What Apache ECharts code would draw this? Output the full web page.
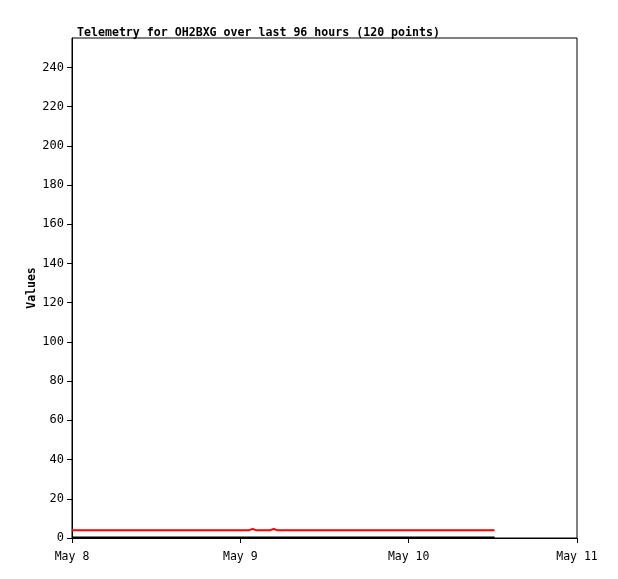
<!DOCTYPE html>
<html>
<head>
<meta charset="utf-8">
<script src="https://cdn.jsdelivr.net/npm/echarts@6/dist/echarts.min.js"></script>
<style>html,body{margin:0;padding:0;background:#fff}#c{width:618px;height:579px}</style>
</head>
<body>
<div id="c"></div>
<script>
const titleText = 'Telemetry for OH2BXG over last 96 hours (120 points)';
const yAxisName = 'Values';
const xTickTimes = ['2024-05-08T00:00:00Z', '2024-05-09T00:00:00Z', '2024-05-10T00:00:00Z', '2024-05-11T00:00:00Z'];
const xTickLabels = ['May 8', 'May 9', 'May 10', 'May 11'];
const yTicks = [0, 20, 40, 60, 80, 100, 120, 140, 160, 180, 200, 220, 240];
const yMax = 255;

const redTimes = ['2024-05-08T00:00:00Z', '2024-05-09T01:15:00Z', '2024-05-09T01:45:00Z', '2024-05-09T02:15:00Z',
                  '2024-05-09T04:15:00Z', '2024-05-09T04:45:00Z', '2024-05-09T05:15:00Z', '2024-05-10T12:15:00Z'];
const redValues = [4, 4, 4.6, 4, 4, 4.6, 4, 4];
const blackTimes = ['2024-05-08T00:00:00Z', '2024-05-10T12:15:00Z'];
const blackValues = [0.3, 0.3];

const ms = s => new Date(s).getTime();
const xTickMs = xTickTimes.map(ms);
const DAY = 86400000;
const font = 'DejaVu Sans Mono';

const chart = echarts.init(document.getElementById('c'), null, {renderer: 'canvas'});
chart.setOption({
  animation: false,
  title: {
    text: titleText, left: 72, top: 22,
    textStyle: {fontFamily: font, fontSize: 11.6, fontWeight: 'bold', color: '#000'}
  },
  grid: {left: 72, right: 41, top: 38, bottom: 41, show: true, borderColor: '#000', borderWidth: 1, backgroundColor: 'transparent'},
  xAxis: {
    type: 'value', min: xTickMs[0], max: xTickMs[xTickMs.length - 1], interval: DAY,
    axisLine: {show: true, lineStyle: {color: '#000', width: 1}},
    axisTick: {show: true, length: 5, inside: false, lineStyle: {color: '#000'}},
    axisLabel: {
      margin: 13, color: '#000', fontFamily: font, fontSize: 11.5,
      formatter: v => { const i = xTickMs.indexOf(v); return i >= 0 ? xTickLabels[i] : ''; },
      showMinLabel: true, showMaxLabel: true, hideOverlap: false
    },
    splitLine: {show: false}
  },
  yAxis: {
    type: 'value', min: 0, max: yMax,
    name: yAxisName, nameLocation: 'middle', nameGap: 34, nameRotate: 90, nameMoveOverlap: false,
    nameTextStyle: {fontFamily: font, fontSize: 11.5, fontWeight: 'bold', color: '#000'},
    axisLine: {show: true, lineStyle: {color: '#000', width: 1}},
    axisTick: {show: true, length: 5, inside: false, customValues: yTicks, lineStyle: {color: '#000'}},
    axisLabel: {customValues: yTicks, margin: 8, color: '#000', fontFamily: font, fontSize: 12},
    splitLine: {show: false}
  },
  series: [
    {
      type: 'line', name: 'black', showSymbol: false, silent: true,
      data: blackTimes.map((t, i) => [ms(t), blackValues[i]]),
      lineStyle: {color: '#000', width: 2}
    },
    {
      type: 'line', name: 'red', showSymbol: false, silent: true,
      data: redTimes.map((t, i) => [ms(t), redValues[i]]),
      lineStyle: {color: '#ff0000', width: 2}
    }
  ]
});
</script>
</body>
</html>
